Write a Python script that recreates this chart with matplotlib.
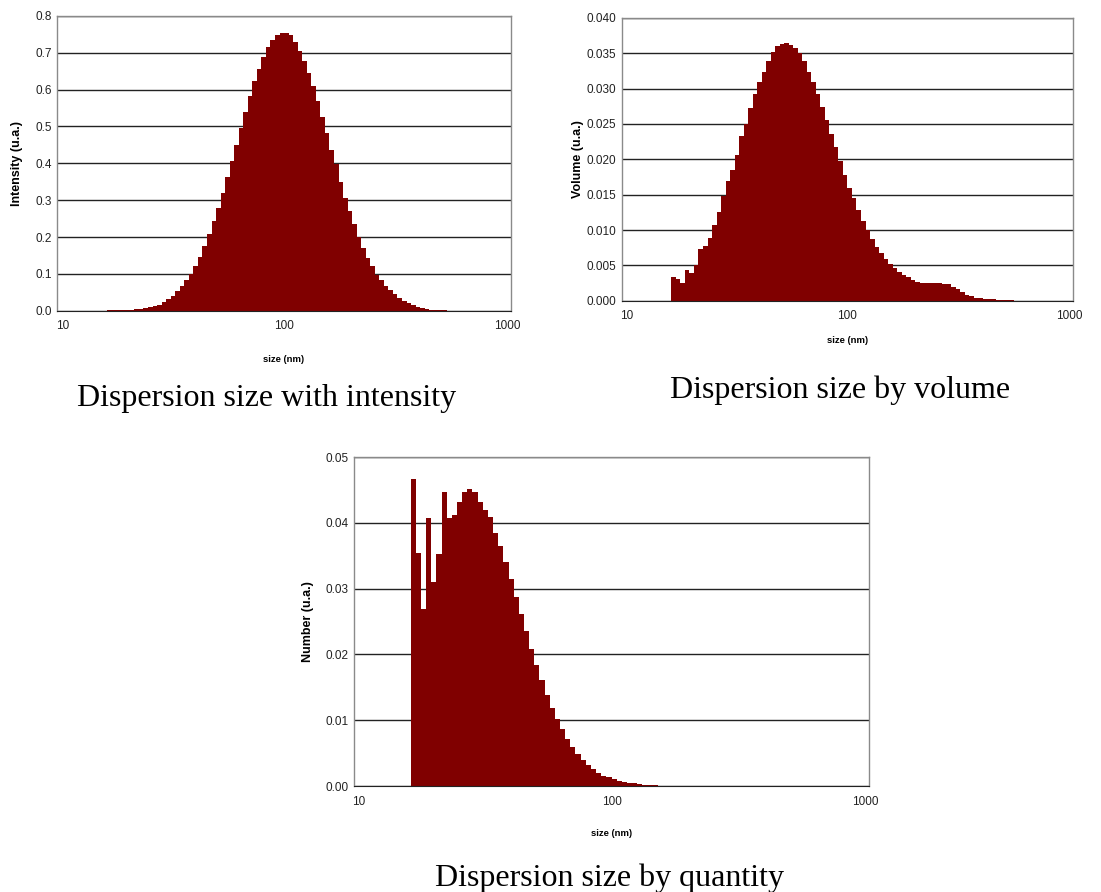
"""DLS size distributions: intensity, volume and number, three panels."""

import matplotlib
matplotlib.use("Agg")
import matplotlib.pyplot as plt
import matplotlib.transforms as mtransforms
import numpy as np

# Instrument size classes: log spaced, 50 per decade, first class at ~16.6 nm
BIN_START_NM = 16.6
BINS_PER_DECADE = 50

intensity = [
    0.0005, 0.0008, 0.001, 0.0015, 0.002, 0.003, 0.004, 0.005, 0.006, 0.009,
    0.012, 0.016, 0.023, 0.031, 0.041, 0.053, 0.067, 0.084, 0.100, 0.122,
    0.147, 0.176, 0.207, 0.243, 0.280, 0.320, 0.364, 0.406, 0.450, 0.495,
    0.538, 0.582, 0.623, 0.656, 0.689, 0.716, 0.735, 0.749, 0.755, 0.755,
    0.747, 0.729, 0.705, 0.677, 0.645, 0.609, 0.568, 0.525, 0.482, 0.436,
    0.398, 0.350, 0.307, 0.270, 0.236, 0.200, 0.171, 0.144, 0.120, 0.097,
    0.082, 0.067, 0.055, 0.044, 0.035, 0.027, 0.020, 0.015, 0.010, 0.007,
    0.0045, 0.003, 0.002, 0.0012, 0.0007,
]

volume = [
    0.0033, 0.0030, 0.0025, 0.0044, 0.0039, 0.0050, 0.0073, 0.0077, 0.0089, 0.0107,
    0.0126, 0.0148, 0.0169, 0.0185, 0.0206, 0.0233, 0.0250, 0.0273, 0.0293, 0.0309,
    0.0324, 0.0339, 0.0352, 0.0360, 0.0363, 0.0364, 0.0362, 0.0358, 0.0350, 0.0339,
    0.0324, 0.0310, 0.0293, 0.0274, 0.0255, 0.0236, 0.0217, 0.0198, 0.0178, 0.0160,
    0.0145, 0.0128, 0.0113, 0.0100, 0.0087, 0.0076, 0.0067, 0.0059, 0.0052, 0.0046,
    0.0041, 0.0036, 0.0033, 0.0029, 0.0027, 0.0025, 0.00245, 0.00245, 0.00245, 0.00245,
    0.0024, 0.0023, 0.0020, 0.0016, 0.0012, 0.00085, 0.0006, 0.00042, 0.00033, 0.00028,
    0.00024, 0.00019, 0.00014, 0.0001, 0.00006, 0.00004,
]

number = [
    0.0467, 0.0354, 0.0269, 0.0408, 0.0310, 0.0352, 0.0447, 0.0408, 0.0412, 0.0431,
    0.0447, 0.0452, 0.0447, 0.0431, 0.0419, 0.0409, 0.0385, 0.0365, 0.0341, 0.0314,
    0.0287, 0.0261, 0.0235, 0.0208, 0.0184, 0.0161, 0.0139, 0.0119, 0.0102, 0.0086,
    0.0072, 0.0060, 0.0049, 0.0040, 0.0032, 0.0026, 0.0020, 0.0016, 0.0013, 0.0010,
    0.0008, 0.0006, 0.0005, 0.0004, 0.0003, 0.0002, 0.00015, 0.0001, 0.00008, 0.00005,
    0.00003, 0.00002, 0.00001,
]

x_ticks = [10, 100, 1000]
x_ticklabels = ["10", "100", "1000"]

BAR_COLOR = "#800000"
TICK_FONT = ["Liberation Sans Narrow", "Liberation Sans", "DejaVu Sans"]
LABEL_FONT = ["Liberation Sans", "DejaVu Sans"]
CAPTION_FONT = ["Liberation Serif", "DejaVu Serif"]


def size_edges(n):
    return BIN_START_NM * 10 ** (np.arange(n + 1) / BINS_PER_DECADE)


def draw_panel(fig, ax, values, ymax, ystep, yfmt, ylabel, xpad, ylpad):
    edges = size_edges(len(values))
    ax.stairs(values, edges, fill=True, color=BAR_COLOR, linewidth=0, zorder=2)
    ax.set_xscale("log")
    ax.set_xlim(10, 1000)
    ax.set_ylim(0, ymax)
    ax.set_xticks(x_ticks)
    ax.set_xticklabels(x_ticklabels)
    ax.xaxis.set_minor_locator(matplotlib.ticker.NullLocator())
    yt = np.arange(0, ymax + ystep / 2, ystep)
    ax.set_yticks(yt)
    ax.set_yticklabels([yfmt.format(v) for v in yt])
    ax.tick_params(length=0, labelsize=8.5, colors="#222222")
    ax.tick_params(axis="x", pad=7)
    ax.tick_params(axis="y", pad=4)
    for lab in ax.get_xticklabels() + ax.get_yticklabels():
        lab.set_family(TICK_FONT)
    # Excel-style nudging of the end labels inwards
    xl = ax.get_xticklabels()
    xl[0].set_transform(xl[0].get_transform()
                        + mtransforms.ScaledTranslation(5 / 100, 0, fig.dpi_scale_trans))
    xl[-1].set_transform(xl[-1].get_transform()
                         + mtransforms.ScaledTranslation(-4 / 100, 0, fig.dpi_scale_trans))
    ax.yaxis.grid(True, color="#222222", linewidth=1.0, zorder=1)
    ax.set_axisbelow(True)
    for side in ("top", "left", "right"):
        ax.spines[side].set_color("#8a8a8a")
        ax.spines[side].set_linewidth(1.0)
    ax.spines["bottom"].set_color("#222222")
    ax.set_xlabel("size (nm)", fontsize=6.8, fontweight="bold",
                  family=LABEL_FONT, labelpad=xpad)
    ax.set_ylabel(ylabel, fontsize=9, fontweight="bold",
                  family=LABEL_FONT, labelpad=ylpad)


fig = plt.figure(figsize=(11.01, 8.92), dpi=100)
fig.patch.set_facecolor("white")

ax1 = fig.add_axes([0.052, 0.6517, 0.412, 0.3304])
draw_panel(fig, ax1, intensity, 0.8, 0.1, "{:.1f}", "Intensity (u.a.)", 16, 9)

ax2 = fig.add_axes([0.5647, 0.6629, 0.410, 0.3170])
draw_panel(fig, ax2, volume, 0.040, 0.005, "{:.3f}", "Volume (u.a.)", 10, 2)

ax3 = fig.add_axes([0.3215, 0.1188, 0.4678, 0.3688])
draw_panel(fig, ax3, number, 0.05, 0.01, "{:.2f}", "Number (u.a.)", 15, 8)

fig.text(0.242, 1 - 398 / 892, "Dispersion size with intensity", ha="center",
         va="center", fontsize=23, family=CAPTION_FONT)
fig.text(0.763, 1 - 390 / 892, "Dispersion size by volume", ha="center",
         va="center", fontsize=23, family=CAPTION_FONT)
fig.text(0.5536, 1 - 878 / 892, "Dispersion size by quantity", ha="center",
         va="center", fontsize=23, family=CAPTION_FONT)

fig.savefig("out.png", dpi=100, facecolor="white")
plt.close(fig)
